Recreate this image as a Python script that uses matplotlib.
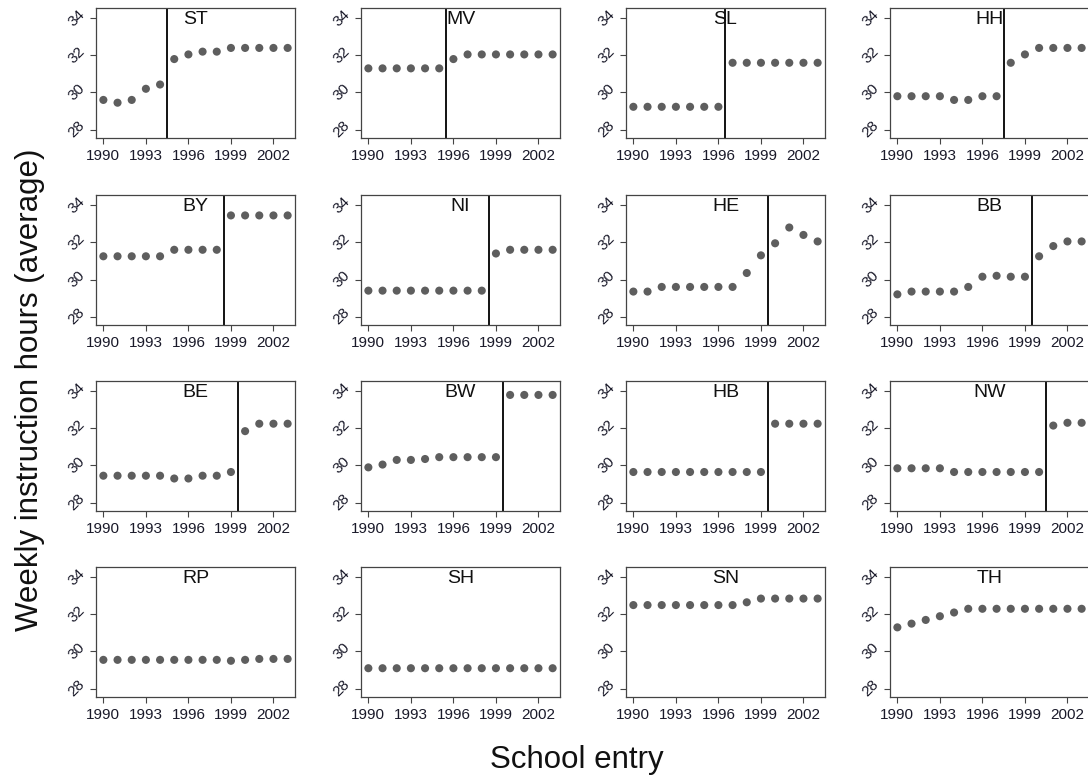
import matplotlib
matplotlib.use("Agg")
import matplotlib.pyplot as plt
import numpy as np

plt.rcParams['font.family'] = ['Liberation Sans', 'DejaVu Sans']

years = list(range(1990, 2004))
states = ["ST", "MV", "SL", "HH",
          "BY", "NI", "HE", "BB",
          "BE", "BW", "HB", "NW",
          "RP", "SH", "SN", "TH"]
reform = {"ST": 1994.5, "MV": 1995.5, "SL": 1996.5, "HH": 1997.5,
          "BY": 1998.5, "NI": 1998.5, "HE": 1999.5, "BB": 1999.5,
          "BE": 1999.5, "BW": 1999.5, "HB": 1999.5, "NW": 2000.5,
          "RP": None, "SH": None, "SN": None, "TH": None}
hours = {
    "ST": [29.6, 29.45, 29.6, 30.2, 30.43, 31.8, 32.05, 32.2, 32.2, 32.4, 32.4, 32.4, 32.4, 32.4],
    "MV": [31.3, 31.3, 31.3, 31.3, 31.3, 31.3, 31.8, 32.05, 32.05, 32.05, 32.05, 32.05, 32.05, 32.05],
    "SL": [29.23, 29.23, 29.23, 29.23, 29.23, 29.23, 29.23, 31.6, 31.6, 31.6, 31.6, 31.6, 31.6, 31.6],
    "HH": [29.8, 29.8, 29.8, 29.8, 29.6, 29.6, 29.8, 29.8, 31.6, 32.05, 32.4, 32.4, 32.4, 32.4],
    "BY": [31.25, 31.25, 31.25, 31.25, 31.25, 31.6, 31.6, 31.6, 31.6, 33.45, 33.45, 33.45, 33.45, 33.45],
    "NI": [29.4, 29.4, 29.4, 29.4, 29.4, 29.4, 29.4, 29.4, 29.4, 31.4, 31.6, 31.6, 31.6, 31.6],
    "HE": [29.35, 29.35, 29.6, 29.6, 29.6, 29.6, 29.6, 29.6, 30.35, 31.3, 31.95, 32.8, 32.4, 32.05],
    "BB": [29.2, 29.35, 29.35, 29.35, 29.35, 29.6, 30.15, 30.2, 30.15, 30.15, 31.25, 31.8, 32.05, 32.05],
    "BE": [29.45, 29.45, 29.45, 29.45, 29.45, 29.3, 29.3, 29.45, 29.45, 29.65, 31.85, 32.25, 32.25, 32.25],
    "BW": [29.9, 30.05, 30.3, 30.3, 30.35, 30.45, 30.45, 30.45, 30.45, 30.45, 33.8, 33.8, 33.8, 33.8],
    "HB": [29.65, 29.65, 29.65, 29.65, 29.65, 29.65, 29.65, 29.65, 29.65, 29.65, 32.25, 32.25, 32.25, 32.25],
    "NW": [29.85, 29.85, 29.85, 29.85, 29.65, 29.65, 29.65, 29.65, 29.65, 29.65, 29.65, 32.15, 32.3, 32.3],
    "RP": [29.55, 29.55, 29.55, 29.55, 29.55, 29.55, 29.55, 29.55, 29.55, 29.5, 29.55, 29.6, 29.6, 29.6],
    "SH": [29.1, 29.1, 29.1, 29.1, 29.1, 29.1, 29.1, 29.1, 29.1, 29.1, 29.1, 29.1, 29.1, 29.1],
    "SN": [32.5, 32.5, 32.5, 32.5, 32.5, 32.5, 32.5, 32.5, 32.65, 32.85, 32.85, 32.85, 32.85, 32.85],
    "TH": [31.3, 31.5, 31.7, 31.9, 32.1, 32.3, 32.3, 32.3, 32.3, 32.3, 32.3, 32.3, 32.3, 32.3],
}
xticks = [1990, 1993, 1996, 1999, 2002]
yticks = [28, 30, 32, 34]

W, H = 1088, 778
fig = plt.figure(figsize=(W / 100, H / 100), dpi=100)

col_left = [96, 361, 626, 890]
row_top = [8, 195, 381, 567]
aw, ah = 199, 130

for i, st in enumerate(states):
    r, c = divmod(i, 4)
    ax = fig.add_axes([col_left[c] / W, 1 - (row_top[r] + ah) / H, aw / W, ah / H])
    ax.scatter(years, hours[st], s=34, color='#5e5e5e', edgecolors='none', zorder=3)
    if reform[st] is not None:
        ax.axvline(reform[st], color='black', lw=1.3, zorder=2)
    ax.set_xlim(1989.48, 2003.52)
    ax.set_ylim(27.55, 34.55)
    ax.set_xticks(xticks)
    ax.set_yticks(yticks)
    ax.tick_params(axis='both', direction='out', length=4, width=0.8,
                   color='#444444', labelsize=11, labelcolor='#1a1a2a')
    ax.tick_params(axis='x', pad=4)
    ax.tick_params(axis='y', pad=2)
    for lab in ax.get_yticklabels():
        lab.set_rotation(45)
        lab.set_ha('right')
        lab.set_va('center')
    for sp in ax.spines.values():
        sp.set_color('#444444')
        sp.set_linewidth(0.9)
    ax.text(0.5, 0.975, st, transform=ax.transAxes, ha='center', va='top',
            fontsize=14, color='#111111')

fig.text(30 / W, 1 - 390 / H, "Weekly instruction hours (average)", rotation=90,
         ha='center', va='center', fontsize=22.5, color='#111111')
fig.text(577 / W, 1 - 760 / H, "School entry", ha='center', va='center',
         fontsize=22.5, color='#111111')

fig.savefig("out.png", dpi=100)
